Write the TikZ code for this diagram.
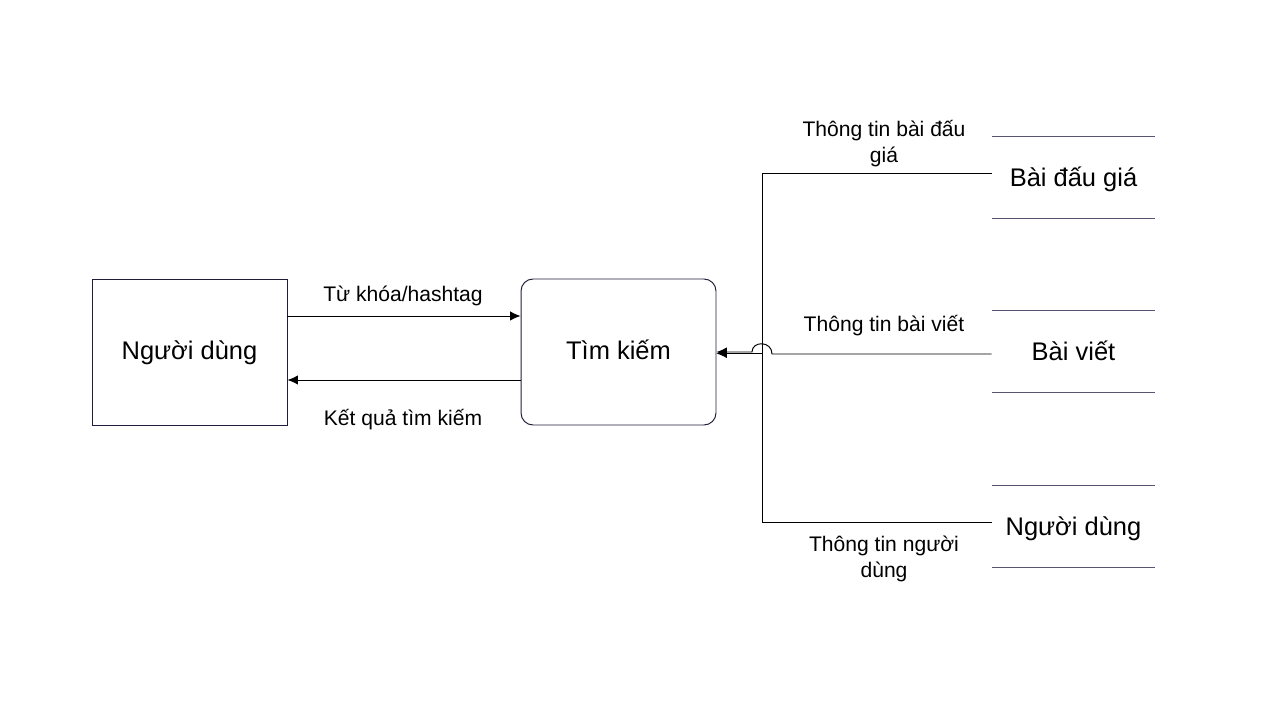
\documentclass[tikz,border=0pt]{standalone}
\usepackage{fontspec}
\setmainfont{Liberation Sans}
\usetikzlibrary{arrows.meta,calc}
\definecolor{boxcol}{RGB}{30,30,60}
\definecolor{storecol}{RGB}{85,85,115}
\tikzset{
  proc/.style={draw=boxcol, line width=0.55pt, minimum width=3.9cm, minimum height=2.92cm, inner sep=0pt, text height=10.4pt, text depth=2pt, font=\fontsize{14.5}{17}\selectfont},
  store/.style={minimum width=3.26cm, minimum height=1.62cm, inner sep=0pt, text height=10.4pt, text depth=0pt, font=\fontsize{14.5}{17}\selectfont},
  lbl/.style={align=center, inner sep=0pt, font=\fontsize{12}{14.7}\selectfont},
  flow/.style={line width=0.55pt},
  tip/.style={-{Latex[length=2.1mm,width=1.9mm]}},
}
\begin{document}
\begin{tikzpicture}[x=0.02cm, y=-0.02cm]
    \useasboundingbox (0,0) rectangle (1278,712);
    % processes
    \node[proc] (user) at (189.5,352) {Người dùng};
    \node[proc, rounded corners=0.24cm] (search) at (618.5,352) {Tìm kiếm};
    % data stores
    \node[store] (dbauction) at (1073.5,177.5) {Bài đấu giá};
    \node[store] (dbpost) at (1073.5,351.5) {Bài viết};
    \node[store] (dbuser) at (1073.5,526.5) {Người dùng};
    \foreach \s in {dbauction, dbpost, dbuser}
      \draw[storecol, line width=0.7pt] (\s.north west) -- (\s.north east) (\s.south west) -- (\s.south east);
    % user <-> search
    \draw[flow, tip] ($(user.east)+(0,-36)$) -- ($(search.west)+(0,-36)$);
    \draw[flow, tip] ($(search.west)+(0,28)$) -- ($(user.east)+(0,28)$);
    \node[lbl] (lkw) at (403,296) {Từ khóa/hashtag};
    \node[lbl] (lres) at (403,420) {Kết quả tìm kiếm};
    % stores -> search
    \coordinate (bus) at (762,353.5);
    \draw[flow] ($(dbauction.west)+(0,-4.5)$) -| (bus);
    \draw[flow] ($(dbuser.west)+(0,-4.5)$) -| (bus);
    \draw[flow, tip] (bus) -- ($(search.east)+(0,1.5)$);
    \draw[flow, tip] (dbpost.west |- 0,354) -- (772,354)
      .. controls (772,340.7) and (752,340.7) .. (752,352) -- (search.east);
    \node[lbl] (linfa) at (884,143.5) {Thông tin bài đấu\\giá};
    \node[lbl] (linfp) at (884,326) {Thông tin bài viết};
    \node[lbl] (linfu) at (884,559) {Thông tin người\\dùng};
\end{tikzpicture}
\end{document}
